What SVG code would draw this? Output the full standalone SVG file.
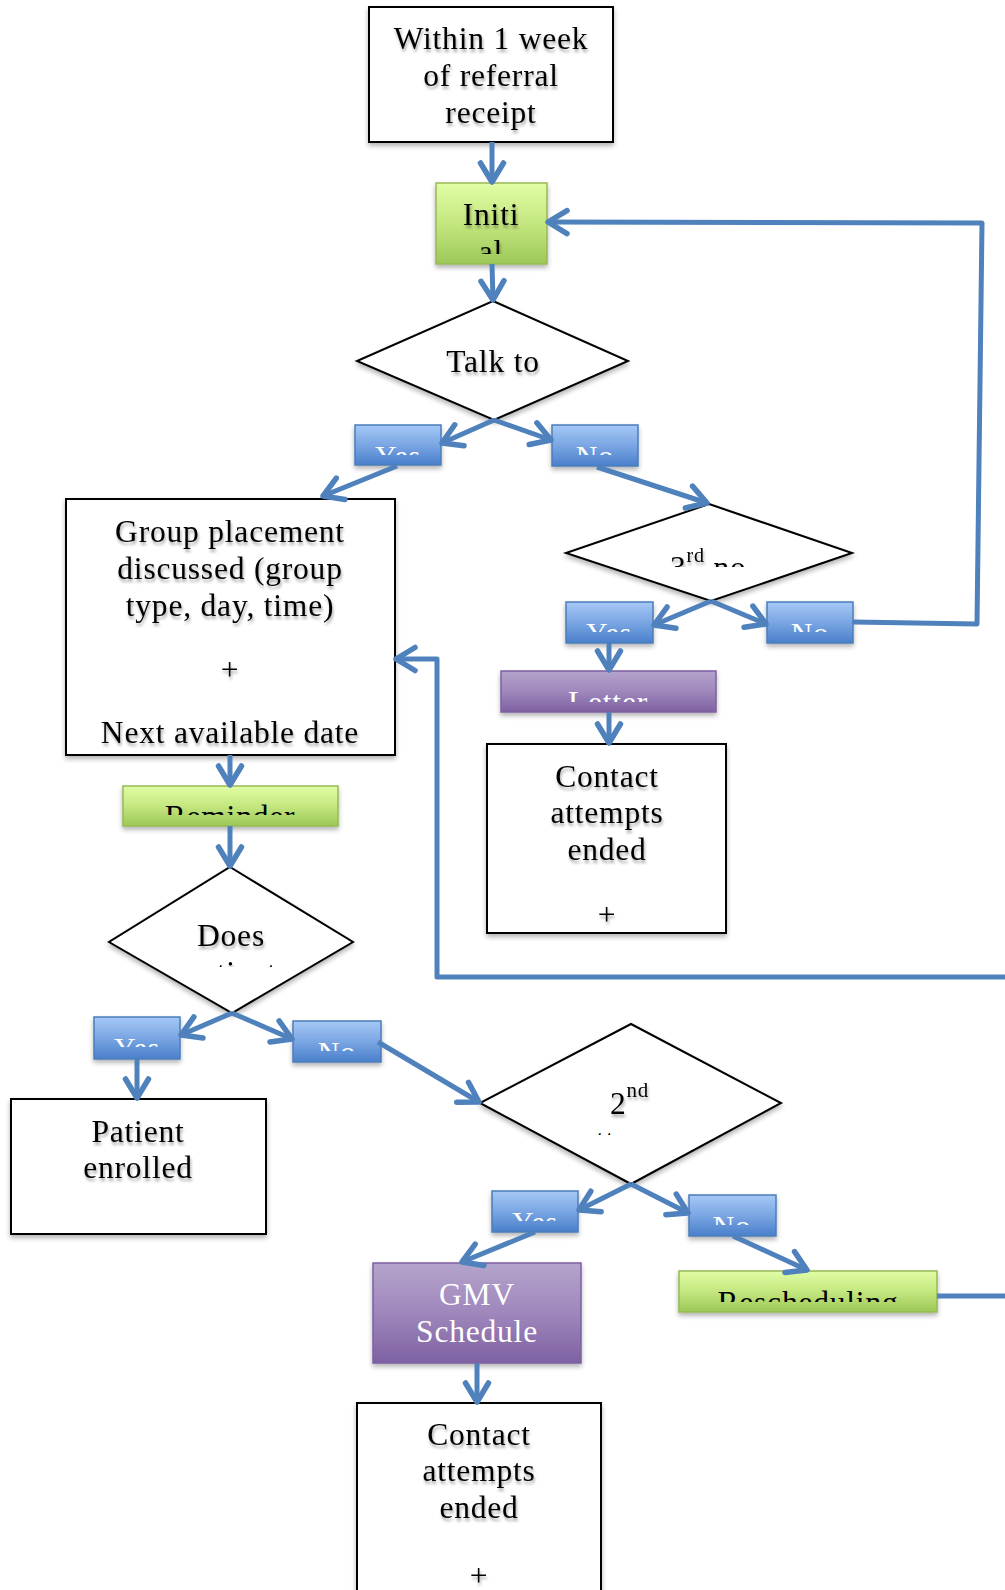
<svg xmlns="http://www.w3.org/2000/svg" width="1005" height="1590" viewBox="0 0 1005 1590">
<defs>
  <style>
    .t{font-family:"Liberation Serif","Times New Roman",serif;font-size:31.5px;letter-spacing:0.8px;fill:#000;text-anchor:middle}
    .w{fill:#fff}
    .box{fill:#fff;stroke:#000;stroke-width:2}
    .dia{fill:#fff;stroke:#000;stroke-width:2}
    .blue{fill:url(#gBlue);stroke:#4A7EBB;stroke-width:1.5}
    .green{fill:url(#gGreen);stroke:#98B954;stroke-width:1.5}
    .purple{fill:url(#gPurple);stroke:#7D60A0;stroke-width:1.5}
    .c{fill:none;stroke:#4F81BD;stroke-width:5;stroke-linejoin:round}
    .a{marker-end:url(#ah)}
  </style>
  <linearGradient id="gBlue" x1="0" y1="0" x2="0" y2="1">
    <stop offset="0" stop-color="#A6C8F6"/><stop offset="0.5" stop-color="#7AA6E3"/><stop offset="1" stop-color="#4A7FCB"/>
  </linearGradient>
  <linearGradient id="gGreen" x1="0" y1="0" x2="0" y2="1">
    <stop offset="0" stop-color="#E1FDA6"/><stop offset="0.5" stop-color="#C4E77F"/><stop offset="1" stop-color="#9CC858"/>
  </linearGradient>
  <linearGradient id="gPurple" x1="0" y1="0" x2="0" y2="1">
    <stop offset="0" stop-color="#B4A4CC"/><stop offset="0.5" stop-color="#9F87BC"/><stop offset="1" stop-color="#7E61A2"/>
  </linearGradient>
  <filter id="bs" x="-10%" y="-10%" width="120%" height="130%">
    <feGaussianBlur in="SourceAlpha" stdDeviation="2.5"/>
    <feOffset dx="0" dy="3" result="o"/>
    <feComponentTransfer><feFuncA type="linear" slope="0.3"/></feComponentTransfer>
    <feMerge><feMergeNode/><feMergeNode in="SourceGraphic"/></feMerge>
  </filter>
  <filter id="ts" x="-10%" y="-20%" width="120%" height="150%">
    <feGaussianBlur in="SourceAlpha" stdDeviation="1.6"/>
    <feOffset dx="1" dy="2.5" result="o"/>
    <feComponentTransfer><feFuncA type="linear" slope="0.35"/></feComponentTransfer>
    <feMerge><feMergeNode/><feMergeNode in="SourceGraphic"/></feMerge>
  </filter>
  <marker id="ah" markerUnits="userSpaceOnUse" markerWidth="28" markerHeight="30" viewBox="0 0 28 30" refX="23" refY="15" orient="auto">
    <path d="M4,3.5 L23,15 L4,26.5" fill="none" stroke="#4F81BD" stroke-width="5.5" stroke-linecap="round" stroke-linejoin="round"/>
  </marker>
  <clipPath id="cInit"><rect x="436" y="183" width="111" height="71"/></clipPath>
  <clipPath id="cYes1"><rect x="355" y="425" width="86" height="30"/></clipPath>
  <clipPath id="cNo1"><rect x="552" y="425" width="86" height="30"/></clipPath>
  <clipPath id="c3rd"><rect x="600" y="520" width="200" height="47"/></clipPath>
  <clipPath id="cYes2"><rect x="566" y="602" width="87" height="30"/></clipPath>
  <clipPath id="cNo2"><rect x="767" y="602" width="86" height="30"/></clipPath>
  <clipPath id="cLetter"><rect x="501" y="671" width="215" height="31"/></clipPath>
  <clipPath id="cRem"><rect x="123" y="786" width="215" height="29"/></clipPath>
  <clipPath id="cDoes"><rect x="150" y="900" width="160" height="67"/></clipPath>
  <clipPath id="cYes3"><rect x="94" y="1017" width="86" height="30"/></clipPath>
  <clipPath id="cNo3"><rect x="293" y="1021" width="88" height="30"/></clipPath>
  <clipPath id="c2nd"><rect x="560" y="1060" width="80" height="75"/></clipPath>
  <clipPath id="cYes4"><rect x="492" y="1191" width="86" height="30"/></clipPath>
  <clipPath id="cNo4"><rect x="689" y="1195" width="87" height="30"/></clipPath>
  <clipPath id="cResch"><rect x="679" y="1271" width="258" height="31"/></clipPath>
</defs>
<rect x="0" y="0" width="1005" height="1590" fill="#fff"/>

<g id="n-within">
  <rect class="box" x="369" y="7" width="244" height="135" filter="url(#bs)"/>
  <g filter="url(#ts)">
    <text class="t" x="491" y="49">Within 1 week</text>
    <text class="t" x="491" y="86">of referral</text>
    <text class="t" x="491" y="123">receipt</text>
  </g>
</g>

<g id="n-initial">
  <rect class="green" x="436" y="183" width="111" height="81" filter="url(#bs)"/>
  <g clip-path="url(#cInit)"><g filter="url(#ts)">
    <text class="t" x="491" y="225">Initi</text>
    <text class="t" x="491" y="262">al</text>
  </g></g>
</g>

<g id="n-talk">
  <polygon class="dia" points="493,301 628,361 494,420 357,361" filter="url(#bs)"/>
  <text class="t" x="493" y="372" filter="url(#ts)">Talk to</text>
</g>

<g id="n-yes1">
  <rect class="blue" x="355" y="425" width="86" height="40" filter="url(#bs)"/>
  <g clip-path="url(#cYes1)"><text class="t w" x="398" y="466" style="font-size:30px">Yes</text></g>
</g>
<g id="n-no1">
  <rect class="blue" x="552" y="425" width="86" height="41" filter="url(#bs)"/>
  <g clip-path="url(#cNo1)"><text class="t w" x="595" y="466" style="font-size:30px">No</text></g>
</g>

<g id="n-group">
  <rect class="box" x="66" y="499" width="329" height="256" filter="url(#bs)"/>
  <g filter="url(#ts)">
    <text class="t" x="230" y="542">Group placement</text>
    <text class="t" x="230" y="579">discussed (group</text>
    <text class="t" x="230" y="616">type, day, time)</text>
    <text class="t" x="230" y="680">+</text>
    <text class="t" x="230" y="743">Next available date</text>
  </g>
</g>

<g id="n-3rd">
  <polygon class="dia" points="709,504 852,553 711,601 566,553" filter="url(#bs)"/>
  <g clip-path="url(#c3rd)">
    <text class="t" x="670" y="578" style="text-anchor:start" filter="url(#ts)">3<tspan dy="-16" style="font-size:20px">rd</tspan><tspan dy="16"> no</tspan></text>
  </g>
</g>

<g id="n-yes2">
  <rect class="blue" x="566" y="602" width="87" height="41" filter="url(#bs)"/>
  <g clip-path="url(#cYes2)"><text class="t w" x="609" y="643" style="font-size:30px">Yes</text></g>
</g>
<g id="n-no2">
  <rect class="blue" x="767" y="602" width="86" height="41" filter="url(#bs)"/>
  <g clip-path="url(#cNo2)"><text class="t w" x="810" y="643" style="font-size:30px">No</text></g>
</g>

<g id="n-letter">
  <rect class="purple" x="501" y="671" width="215" height="41" filter="url(#bs)"/>
  <g clip-path="url(#cLetter)"><text class="t w" x="608" y="713">Letter</text></g>
</g>

<g id="n-contact1">
  <rect class="box" x="487" y="744" width="239" height="189" filter="url(#bs)"/>
  <g filter="url(#ts)">
    <text class="t" x="607" y="787">Contact</text>
    <text class="t" x="607" y="823">attempts</text>
    <text class="t" x="607" y="860">ended</text>
    <text class="t" x="607" y="925">+</text>
  </g>
</g>

<g id="n-reminder">
  <rect class="green" x="123" y="786" width="215" height="40" filter="url(#bs)"/>
  <g clip-path="url(#cRem)"><text class="t" x="230" y="827">Reminder</text></g>
</g>

<g id="n-does">
  <polygon class="dia" points="230,867 353,942 232,1013 109,942" filter="url(#bs)"/>
  <g clip-path="url(#cDoes)"><g filter="url(#ts)">
    <text class="t" x="231" y="946">Does</text>
    <text class="t" x="231" y="983">patient</text>
  </g></g>
</g>

<g id="n-yes3">
  <rect class="blue" x="94" y="1017" width="86" height="42" filter="url(#bs)"/>
  <g clip-path="url(#cYes3)"><text class="t w" x="137" y="1058" style="font-size:30px">Yes</text></g>
</g>
<g id="n-no3">
  <rect class="blue" x="293" y="1021" width="88" height="41" filter="url(#bs)"/>
  <g clip-path="url(#cNo3)"><text class="t w" x="337" y="1062" style="font-size:30px">No</text></g>
</g>

<g id="n-patient">
  <rect class="box" x="11" y="1099" width="255" height="135" filter="url(#bs)"/>
  <g filter="url(#ts)">
    <text class="t" x="138" y="1142">Patient</text>
    <text class="t" x="138" y="1178">enrolled</text>
  </g>
</g>

<g id="n-2nd">
  <polygon class="dia" points="631,1024 781,1103 631,1184 480,1103" filter="url(#bs)"/>
  <g filter="url(#ts)">
    <text class="t" x="610" y="1114" style="text-anchor:start">2<tspan dy="-17" style="font-size:21px">nd</tspan></text>
  </g>
  <g clip-path="url(#c2nd)">
    <text class="t" x="631" y="1151">attempt</text>
  </g>
</g>

<g id="n-yes4">
  <rect class="blue" x="492" y="1191" width="86" height="41" filter="url(#bs)"/>
  <g clip-path="url(#cYes4)"><text class="t w" x="535" y="1232" style="font-size:30px">Yes</text></g>
</g>
<g id="n-no4">
  <rect class="blue" x="689" y="1195" width="87" height="41" filter="url(#bs)"/>
  <g clip-path="url(#cNo4)"><text class="t w" x="732" y="1236" style="font-size:30px">No</text></g>
</g>

<g id="n-gmv">
  <rect class="purple" x="373" y="1263" width="208" height="100" filter="url(#bs)"/>
  <text class="t w" x="477" y="1305">GMV</text>
  <text class="t w" x="477" y="1342">Schedule</text>
</g>

<g id="n-resched">
  <rect class="green" x="679" y="1271" width="258" height="41" filter="url(#bs)"/>
  <g clip-path="url(#cResch)"><text class="t" x="808" y="1313">Rescheduling</text></g>
</g>

<g id="n-contact2">
  <rect class="box" x="357" y="1403" width="244" height="200" filter="url(#bs)"/>
  <g filter="url(#ts)">
    <text class="t" x="479" y="1445">Contact</text>
    <text class="t" x="479" y="1481">attempts</text>
    <text class="t" x="479" y="1518">ended</text>
    <text class="t" x="479" y="1586">+</text>
  </g>
</g>

<g id="connectors">
  <path class="c a" d="M492,142 L492,182"/>
  <path class="c a" d="M492,264 L493,300"/>
  <path class="c a" d="M853,622 L977,624 L982,223 L548,222"/>
  <path class="c a" d="M494,420 L442,443"/>
  <path class="c a" d="M494,420 L551,440"/>
  <path class="c a" d="M397,466 L323,496"/>
  <path class="c a" d="M597,467 L707,503"/>
  <path class="c a" d="M711,601 L654,625"/>
  <path class="c a" d="M711,601 L766,624"/>
  <path class="c a" d="M609,643 L609,670"/>
  <path class="c a" d="M609,712 L609,743"/>
  <path class="c a" d="M230,755 L230,785"/>
  <path class="c a" d="M230,826 L230,866"/>
  <path class="c a" d="M232,1013 L181,1035"/>
  <path class="c a" d="M232,1013 L292,1039"/>
  <path class="c a" d="M137,1059 L137,1098"/>
  <path class="c a" d="M378,1042 L479,1102"/>
  <path class="c a" d="M631,1184 L579,1210"/>
  <path class="c a" d="M631,1184 L688,1213"/>
  <path class="c a" d="M535,1232 L462,1262"/>
  <path class="c a" d="M733,1236 L807,1270"/>
  <path class="c a" d="M477,1363 L477,1402"/>
  <path class="c" d="M937,1296 L1010,1296"/>
  <path class="c a" d="M1010,977 L437,977 L437,659 L396,659"/>
</g>
</svg>
